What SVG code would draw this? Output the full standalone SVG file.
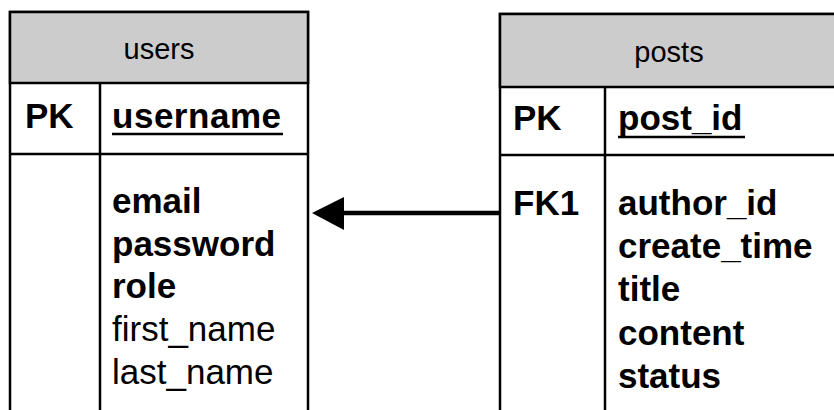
<svg xmlns="http://www.w3.org/2000/svg" width="834" height="410" viewBox="0 0 834 410">
<style>
.frame{fill:#ffffff;stroke:#000000;stroke-width:2.5}
.head{fill:#cccccc;stroke:#000000;stroke-width:2.5}
.ln{stroke:#000000;stroke-width:2.5;fill:none}
.ul{stroke:#000000;stroke-width:2.5}
.t{font-family:"Liberation Sans",Arial,sans-serif;font-size:35px;fill:#000000}
.b{font-weight:bold}
.h{font-size:29px;text-anchor:middle}
.conn{stroke:#000000;stroke-width:4.5;fill:none}
</style>
<rect width="834" height="410" fill="#ffffff"/>
<g id="users">
<rect class="frame" x="10" y="12" width="298" height="410"/>
<rect class="head" x="10" y="12" width="298" height="71"/>
<line class="ln" x1="10" y1="154" x2="308" y2="154"/>
<line class="ln" x1="100" y1="83" x2="100" y2="412"/>
<text class="t h" x="159" y="59">users</text>
<text class="t b" x="25" y="128">PK</text>
<text class="t b" x="112" y="128" textLength="169" lengthAdjust="spacing">username</text>
<line class="ul" x1="112" y1="134" x2="283" y2="134"/>
<text class="t b" x="112" y="213">email</text>
<text class="t b" x="112" y="256">password</text>
<text class="t b" x="112" y="298">role</text>
<text class="t" x="112" y="341">first_name</text>
<text class="t" x="112" y="384">last_name</text>
</g>
<g id="posts">
<rect class="frame" x="500" y="14" width="350" height="410"/>
<rect class="head" x="500" y="14" width="350" height="73"/>
<line class="ln" x1="500" y1="155" x2="834" y2="155"/>
<line class="ln" x1="605" y1="87" x2="605" y2="412"/>
<text class="t h" x="669" y="62">posts</text>
<text class="t b" x="513" y="130">PK</text>
<text class="t b" x="618" y="130">post_id</text>
<line class="ul" x1="618" y1="137" x2="745" y2="137"/>
<text class="t b" x="513" y="215">FK1</text>
<text class="t b" x="618" y="215">author_id</text>
<text class="t b" x="618" y="258">create_time</text>
<text class="t b" x="618" y="301">title</text>
<text class="t b" x="618" y="345">content</text>
<text class="t b" x="618" y="388">status</text>
</g>
<g id="connectors">
<line class="conn" x1="342" y1="213" x2="500" y2="213"/>
<polygon points="312,213 344,197 344,230" fill="#000000"/>
</g>
</svg>
